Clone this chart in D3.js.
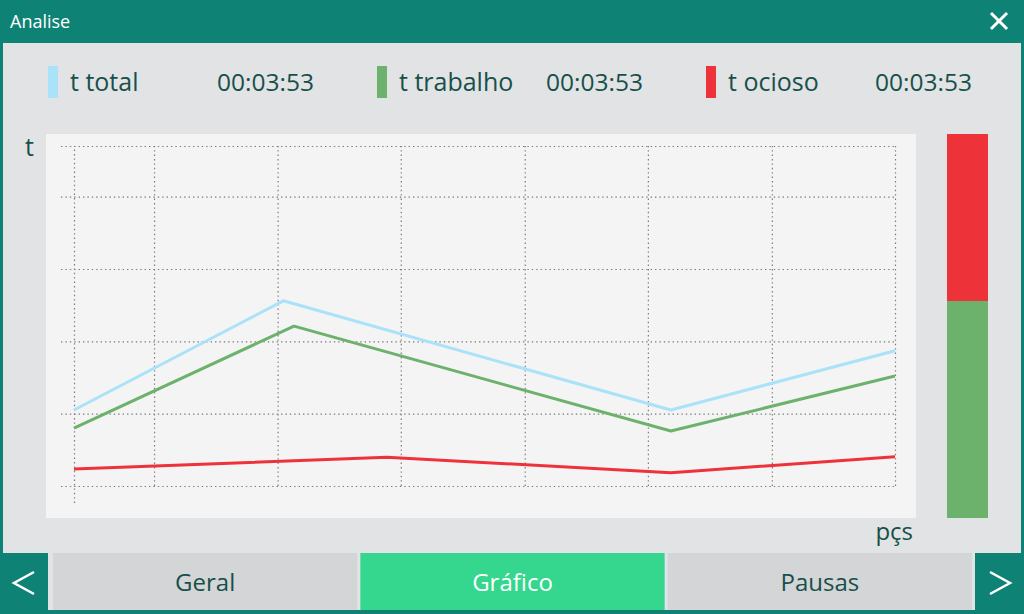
<!DOCTYPE html>
<html>
<head>
<meta charset="utf-8">
<script src="https://cdn.jsdelivr.net/npm/d3@7"></script>
<style>
  html, body { margin: 0; padding: 0; background: #0e8275; }
  svg { display: block; font-family: "Open Sans", "Noto Sans", sans-serif; }
</style>
</head>
<body>
<svg id="chart" width="1024" height="614"></svg>
<script>
// legend
const legendNames = ["t total", "t trabalho", "t ocioso"];
const legendTimes = ["00:03:53", "00:03:53", "00:03:53"];
const seriesColors = ["#a9e2f9", "#6db26c", "#ee3239"];

// line series (x in pçs, y in t)
const totalX = [0, 25.5, 72.7, 100];
const totalY = [10.5, 25.6, 10.5, 18.7];
const trabalhoX = [0, 26.8, 72.7, 100];
const trabalhoY = [8.0, 22.1, 7.6, 15.2];
const ociosoX = [0, 38.1, 72.7, 100];
const ociosoY = [2.35, 3.97, 1.84, 4.05];

const xTicks = [9.75, 24.8, 39.8, 54.9, 69.9, 85, 100];
const yTicks = [0, 10, 20, 30, 40, 47];

// stacked bar on the right
const barParts = ["t trabalho", "t ocioso"];
const barValues = [217, 167];

const tabs = ["Geral", "Gráfico", "Pausas"];
const activeTab = "Gráfico";

const svg = d3.select("#chart");
const teal = "#0e8275";
const ink = "#17504a";

svg.append("rect").attr("width", 1024).attr("height", 614).attr("fill", teal);
svg.append("rect").attr("x", 3).attr("y", 43).attr("width", 1018).attr("height", 510).attr("fill", "#e1e3e5");

// title bar
svg.append("text").attr("x", 10).attr("y", 28).attr("fill", "#fff")
  .attr("font-size", 18).text("Analise");
const close = svg.append("g").attr("stroke", "#fff").attr("stroke-width", 3).attr("stroke-linecap", "square");
close.append("line").attr("x1", 992).attr("y1", 14).attr("x2", 1006).attr("y2", 28);
close.append("line").attr("x1", 1006).attr("y1", 14).attr("x2", 992).attr("y2", 28);

// legend row
const legX = [48, 377, 706];
const timeX = [217, 546, 875];
const leg = svg.append("g");
legendNames.forEach((name, i) => {
  leg.append("rect").attr("x", legX[i]).attr("y", 66).attr("width", 10).attr("height", 32)
    .attr("fill", seriesColors[i]);
  leg.append("text").attr("x", legX[i] + 22).attr("y", 91).attr("fill", ink)
    .attr("font-size", 25).text(name);
  leg.append("text").attr("x", timeX[i]).attr("y", 91).attr("fill", ink)
    .attr("font-size", 24.5).text(legendTimes[i]);
});

// plot panel
svg.append("rect").attr("x", 46).attr("y", 134).attr("width", 870).attr("height", 384).attr("fill", "#f4f4f4");

const x = d3.scaleLinear().domain([0, 100]).range([74, 895]);
const y = d3.scaleLinear().domain([0, 47]).range([486, 146]);

const gridStyle = g => {
  g.select(".domain").remove();
  g.selectAll(".tick text").remove();
  g.selectAll(".tick line").attr("stroke", "#7a7a7a").attr("stroke-width", 1.2)
    .attr("stroke-dasharray", "1.4,3");
};

svg.append("g").attr("transform", "translate(61,0)")
  .call(d3.axisLeft(y).tickValues(yTicks).tickSize(-(x(100) - 61)))
  .call(gridStyle);

svg.append("g").attr("transform", `translate(0,${y(0)})`)
  .call(d3.axisBottom(x).tickValues(xTicks).tickSize(-(y(0) - y(47))))
  .call(gridStyle);

svg.append("g").attr("transform", `translate(0,${y(0) + 17})`)
  .call(d3.axisBottom(x).tickValues([0]).tickSize(-(y(0) + 17 - y(47))))
  .call(gridStyle);

const line = d3.line().x(d => x(d[0])).y(d => y(d[1]));
const series = [
  d3.zip(totalX, totalY),
  d3.zip(trabalhoX, trabalhoY),
  d3.zip(ociosoX, ociosoY)
];
svg.append("g").selectAll("path").data(series).join("path")
  .attr("d", line)
  .attr("fill", "none")
  .attr("stroke", (d, i) => seriesColors[i])
  .attr("stroke-width", 3)
  .attr("stroke-linejoin", "round");

// axis labels
svg.append("text").attr("x", 25).attr("y", 156).attr("fill", ink).attr("font-size", 25).text("t");
svg.append("text").attr("x", 913).attr("y", 540).attr("text-anchor", "end").attr("fill", ink)
  .attr("font-size", 24).text("pçs");

// stacked bar
const barY = d3.scaleLinear().domain([0, d3.sum(barValues)]).range([518, 134]);
let acc = 0;
const stacks = barValues.map((v, i) => { const s = { name: barParts[i], y0: acc, y1: acc + v }; acc += v; return s; });
svg.append("g").selectAll("rect").data(stacks).join("rect")
  .attr("x", 947).attr("width", 41)
  .attr("y", d => barY(d.y1))
  .attr("height", d => barY(d.y0) - barY(d.y1))
  .attr("fill", (d, i) => seriesColors[i + 1]);

// bottom tabs
svg.append("rect").attr("x", 48).attr("y", 553).attr("width", 927).attr("height", 57).attr("fill", "#e1e3e5");
const tabX = d3.scaleBand().domain(tabs).range([53, 972]).paddingInner(0.01);
const tg = svg.append("g").selectAll("g").data(tabs).join("g");
tg.append("rect")
  .attr("x", d => tabX(d)).attr("y", 553)
  .attr("width", tabX.bandwidth()).attr("height", 57)
  .attr("fill", d => d === activeTab ? "#35d68d" : "#d3d5d7");
tg.append("text")
  .attr("x", d => tabX(d) + tabX.bandwidth() / 2).attr("y", 591)
  .attr("text-anchor", "middle").attr("font-size", 24)
  .attr("fill", d => d === activeTab ? "#fff" : ink)
  .text(d => d);

const arrows = svg.append("g").attr("fill", "none").attr("stroke", "#fff").attr("stroke-width", 2.5);
arrows.append("path").attr("d", "M34,572 L14,583 L34,594");
arrows.append("path").attr("d", "M990,572 L1010,583 L990,594");
</script>
</body>
</html>
